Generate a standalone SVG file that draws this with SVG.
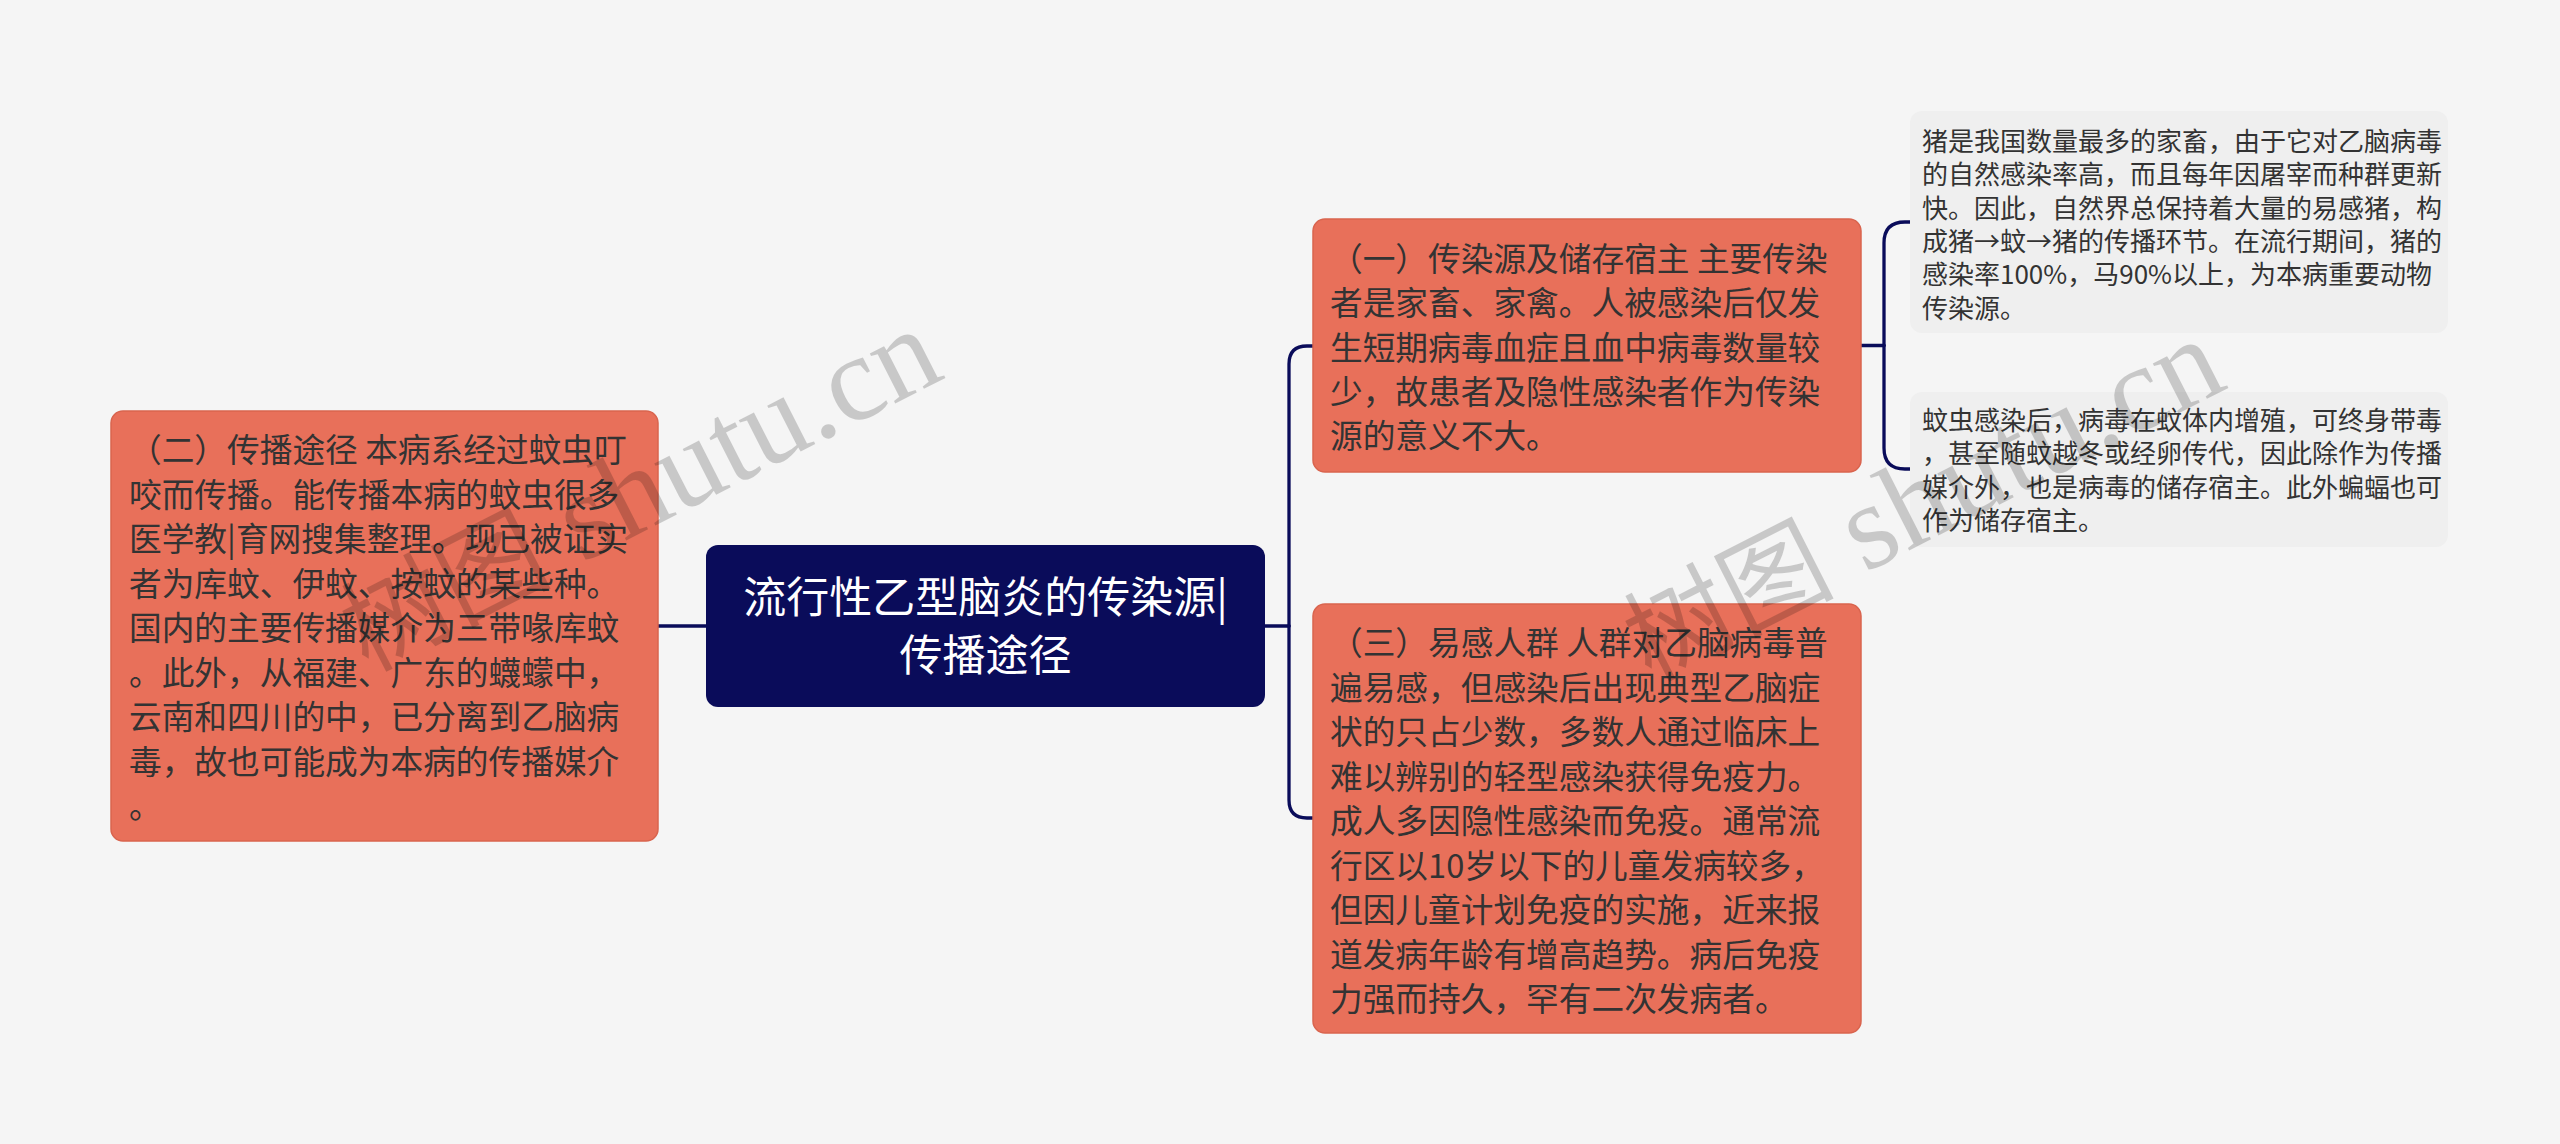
<svg xmlns="http://www.w3.org/2000/svg" width="2560" height="1144" viewBox="0 0 2560 1144">
<style>
.bg{fill:#f5f5f5}
.main{fill:#e8705a;stroke:#d9644e;stroke-width:1.5}
.root{fill:#0a0c5a}
.sub{fill:#efefef}
.t{font-family:"Noto Sans CJK SC","Noto Sans",sans-serif;font-size:32.7px;fill:#333333}
.s{font-family:"Noto Sans CJK SC","Noto Sans",sans-serif;font-size:26px;fill:#333333}
.rt{font-family:"Noto Sans CJK SC","Noto Sans",sans-serif;font-size:43px;fill:#ffffff;text-anchor:middle}
.ln{fill:none;stroke:#0a0c5a;stroke-width:3.3;stroke-linecap:round;stroke-linejoin:round}
.wm{font-family:"Liberation Serif","Noto Sans CJK SC",serif;fill:#000000;opacity:0.18;text-anchor:end}
</style>
<rect class="bg" x="0" y="0" width="2560" height="1144"/>
<g id="connectors">
<path class="ln" d="M658 626 H706"/>
<path class="ln" d="M1265 626 H1289"/>
<path class="ln" d="M1289 626 V364 Q1289 346 1307 346 H1313"/>
<path class="ln" d="M1289 626 V800 Q1289 818 1307 818 H1313"/>
<path class="ln" d="M1861 345.5 H1884"/>
<path class="ln" d="M1884 345.5 V243 Q1884 222 1905 222 H1910"/>
<path class="ln" d="M1884 345.5 V448 Q1884 469 1905 469 H1910"/>
</g>
<g id="root">
<rect class="root" x="706" y="545" width="559" height="162" rx="12"/>
<text class="rt" x="985.5" y="613">流行性乙型脑炎的传染源|</text>
<text class="rt" x="985.5" y="671">传播途径</text>
</g>
<g id="node-left">
<rect class="main" x="111" y="411" width="547" height="430" rx="12"/>
<text class="t" x="129" y="462">（二）传播途径 本病系经过蚊虫叮</text>
<text class="t" x="129" y="506.5">咬而传播。能传播本病的蚊虫很多</text>
<text class="t" x="129" y="551">医学教|育网搜集整理。现已被证实</text>
<text class="t" x="129" y="595.5">者为库蚊、伊蚊、按蚊的某些种。</text>
<text class="t" x="129" y="640">国内的主要传播媒介为三带喙库蚊</text>
<text class="t" x="129" y="684.5">。此外，从福建、广东的蠛蠓中，</text>
<text class="t" x="129" y="729">云南和四川的中，已分离到乙脑病</text>
<text class="t" x="129" y="773.5">毒，故也可能成为本病的传播媒介</text>
<text class="t" x="129" y="818">。</text>
</g>
<g id="node-1">
<rect class="main" x="1313" y="219" width="548" height="253" rx="12"/>
<text class="t" x="1330" y="271">（一）传染源及储存宿主 主要传染</text>
<text class="t" x="1330" y="315.3">者是家畜、家禽。人被感染后仅发</text>
<text class="t" x="1330" y="359.6">生短期病毒血症且血中病毒数量较</text>
<text class="t" x="1330" y="403.9">少，故患者及隐性感染者作为传染</text>
<text class="t" x="1330" y="448.2">源的意义不大。</text>
</g>
<g id="node-3">
<rect class="main" x="1313" y="604" width="548" height="429" rx="12"/>
<text class="t" x="1330" y="655">（三）易感人群 人群对乙脑病毒普</text>
<text class="t" x="1330" y="699.5">遍易感，但感染后出现典型乙脑症</text>
<text class="t" x="1330" y="744">状的只占少数，多数人通过临床上</text>
<text class="t" x="1330" y="788.5">难以辨别的轻型感染获得免疫力。</text>
<text class="t" x="1330" y="833">成人多因隐性感染而免疫。通常流</text>
<text class="t" x="1330" y="877.5">行区以10岁以下的儿童发病较多，</text>
<text class="t" x="1330" y="922">但因儿童计划免疫的实施，近来报</text>
<text class="t" x="1330" y="966.5">道发病年龄有增高趋势。病后免疫</text>
<text class="t" x="1330" y="1011">力强而持久，罕有二次发病者。</text>
</g>
<g id="node-1-1">
<rect class="sub" x="1910" y="111" width="538" height="222" rx="12"/>
<text class="s" x="1922" y="151">猪是我国数量最多的家畜，由于它对乙脑病毒</text>
<text class="s" x="1922" y="184.3">的自然感染率高，而且每年因屠宰而种群更新</text>
<text class="s" x="1922" y="217.6">快。因此，自然界总保持着大量的易感猪，构</text>
<text class="s" x="1922" y="250.9">成猪→蚊→猪的传播环节。在流行期间，猪的</text>
<text class="s" x="1922" y="284.2">感染率100%，马90%以上，为本病重要动物</text>
<text class="s" x="1922" y="317.5">传染源。</text>
</g>
<g id="node-1-2">
<rect class="sub" x="1910" y="392" width="538" height="155" rx="12"/>
<text class="s" x="1922" y="430">蚊虫感染后，病毒在蚊体内增殖，可终身带毒</text>
<text class="s" x="1922" y="463.3">，甚至随蚊越冬或经卵传代，因此除作为传播</text>
<text class="s" x="1922" y="496.6">媒介外，也是病毒的储存宿主。此外蝙蝠也可</text>
<text class="s" x="1922" y="529.9">作为储存宿主。</text>
</g>
<g id="watermarks">
<text class="wm" x="947" y="377" transform="rotate(-27 947 377)"><tspan font-size="105">树图</tspan><tspan font-size="122"> shutu.cn</tspan></text>
<text class="wm" x="2230" y="387" transform="rotate(-27 2230 387)"><tspan font-size="105">树图</tspan><tspan font-size="122"> shutu.cn</tspan></text>
</g>
</svg>
